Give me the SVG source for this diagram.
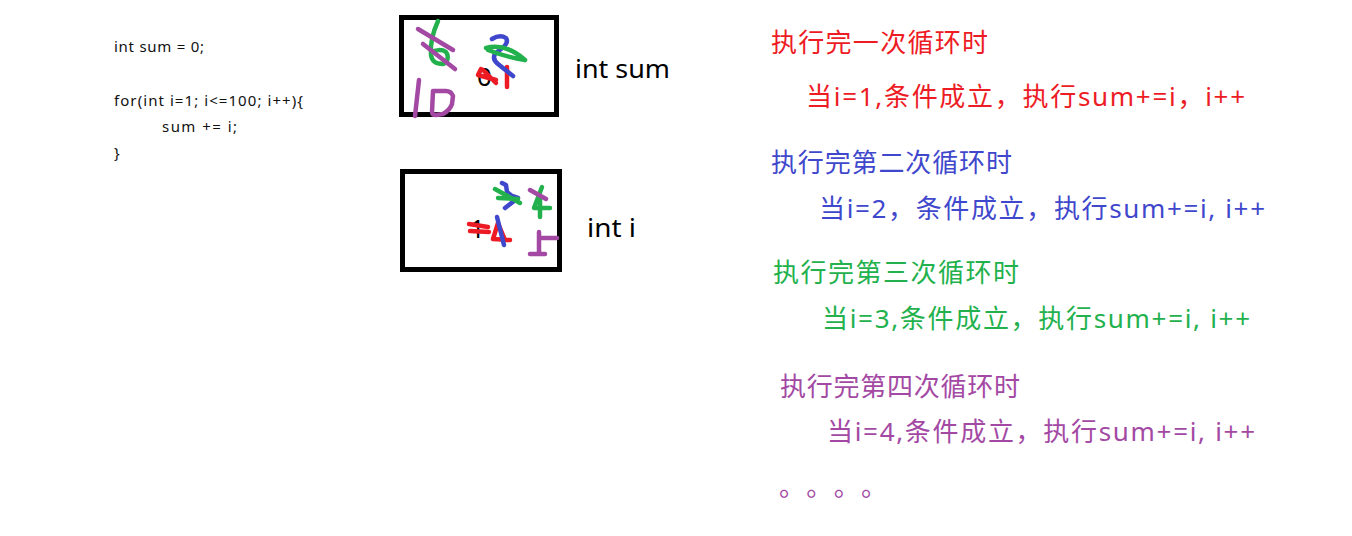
<svg xmlns="http://www.w3.org/2000/svg" width="1352" height="536" viewBox="0 0 1352 536">
<style>
.code{font-family:"Noto Sans","Liberation Sans",sans-serif;font-size:15px;fill:#111}
.lbl{font-family:"Noto Sans","Liberation Sans",sans-serif;font-size:26px;fill:#000}
.cn{font-family:"Noto Sans","Noto Sans CJK SC",sans-serif;font-size:26px}
.box{fill:#fff;stroke:#000;stroke-width:5}
.ink{fill:none;stroke-width:4.5;stroke-linecap:round;stroke-linejoin:round}
.r{stroke:#ED1C24}.b{stroke:#3F48CC}.g{stroke:#22B14C}.p{stroke:#A349A4}
</style>
<rect width="1352" height="536" fill="#fff"/>
<g id="code">
<text class="code" x="114" y="52" textLength="90" lengthAdjust="spacing">int sum = 0;</text>
<text class="code" x="114" y="106" textLength="189" lengthAdjust="spacing">for(int i=1; i&lt;=100; i++){</text>
<text class="code" x="162" y="132" textLength="75" lengthAdjust="spacing">sum += i;</text>
<text class="code" x="114" y="158">}</text>
</g>
<g id="box-sum">
<rect class="box" x="401.5" y="17.5" width="155" height="97"/>
<text class="lbl" x="477" y="86">0</text>
<path class="ink g" d="M438,21 C433,32 430,45 431,55 C432,62 436,64 443,64 C448,63 449,56 446,52 C442,49 435,50 431,52"/>
<path class="ink p" d="M418,29 L453,50 M423,44 L455,69 M419,80 L415,116"/>
<path class="ink p" d="M433,91 L432,112 Q432,115 436,115 L443,114 Q450,110 452,104 L453,96 Q451,91 446,91 L433,91"/>
<path class="ink r" d="M481,69 L478,75 L496,80 M483,70 L496,83 M507,67 L507,87"/>
<path class="ink b" d="M492,39 Q500,34 506,38 Q509,43 502,48 L495,54 Q492,59 498,64 L513,76"/>
<path class="ink g" d="M486,48 Q506,43 525,60 M488,50 Q506,57 525,60"/>
<text class="lbl" x="575" y="78" textLength="95" lengthAdjust="spacingAndGlyphs">int sum</text>
</g>
<g id="box-i">
<rect class="box" x="402.5" y="171.5" width="157" height="98"/>
<text class="lbl" x="470" y="238">1</text>
<path class="ink r" d="M469,224 L488,227 M470,231 L489,232"/>
<path class="ink r" d="M498,223 L493,239 L510,240 M499,226 L505,240"/>
<path class="ink b" d="M497,217 L504,245"/>
<path class="ink b" d="M502,183 L506,185 L507,192 L512,196 L518,198 L505,208"/>
<path class="ink g" d="M495,189 L520,203 M498,198 L518,199"/>
<path class="ink g" d="M542,187 L534,208 L550,208 M540,198 L540,217"/>
<path class="ink p" d="M530,190 L546,199 M539,232 L539,252 M540,238 L557,238 M530,254 L545,254"/>
<text class="lbl" x="587" y="237" textLength="49" lengthAdjust="spacingAndGlyphs">int i</text>
</g>
<g id="notes">
<text class="cn" x="771" y="52" fill="#ED1C24" textLength="217" lengthAdjust="spacing">执行完一次循环时</text>
<text class="cn" x="806" y="106" fill="#ED1C24" textLength="439" lengthAdjust="spacing">当i=1,条件成立，执行sum+=i，i++</text>
<text class="cn" x="771" y="172" fill="#3F48CC" textLength="241" lengthAdjust="spacing">执行完第二次循环时</text>
<text class="cn" x="819" y="218" fill="#3F48CC" textLength="446" lengthAdjust="spacing">当i=2，条件成立，执行sum+=i, i++</text>
<text class="cn" x="773" y="282" fill="#22B14C" textLength="246" lengthAdjust="spacing">执行完第三次循环时</text>
<text class="cn" x="822" y="328" fill="#22B14C" textLength="428" lengthAdjust="spacing">当i=3,条件成立，执行sum+=i, i++</text>
<text class="cn" x="780" y="396" fill="#A349A4" textLength="240" lengthAdjust="spacing">执行完第四次循环时</text>
<text class="cn" x="827" y="441" fill="#A349A4" textLength="428" lengthAdjust="spacing">当i=4,条件成立，执行sum+=i, i++</text>
<text class="cn" x="779" y="496" fill="#A349A4" textLength="108" lengthAdjust="spacing">。。。。</text>
</g>
</svg>
